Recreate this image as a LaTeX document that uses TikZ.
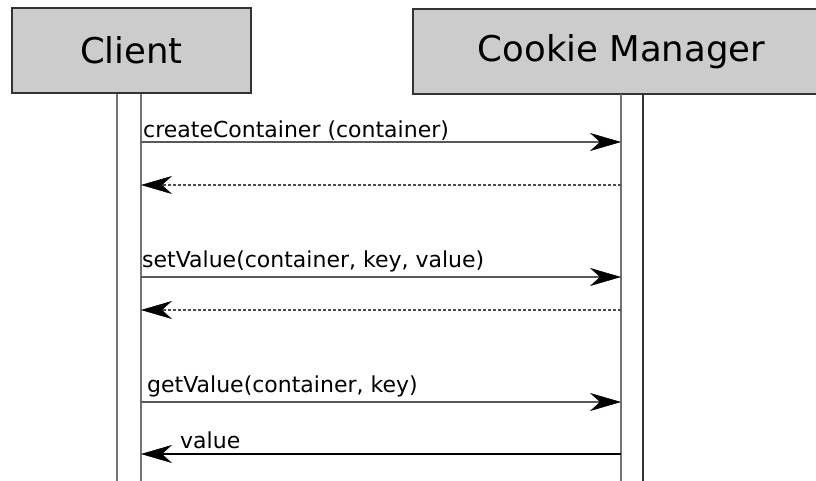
\documentclass[tikz,border=0pt]{standalone}
\usepackage{fontspec}
\setmainfont{DejaVu Sans}
\usetikzlibrary{arrows.meta}
\definecolor{boxgray}{HTML}{CCCCCC}
\begin{document}
\begin{tikzpicture}[x=1pt,y=-1pt,
  actor/.style={draw=black!80, line width=2pt, fill=boxgray, inner sep=0pt,
    minimum height=85pt, font=\fontsize{35.5}{40}\selectfont},
  lifebar/.style={draw=black!55, line width=2.5pt},
  lifebardark/.style={draw=black!80, line width=2.5pt},
  tip/.style={-{Stealth[length=31pt,width=18pt,inset=10pt,color=black,line width=0.5pt]}},
  callmsg/.style={tip, draw=black!65, line width=2pt},
  retmsg/.style={tip, draw=black!70, line width=1.6pt, dash pattern=on 3pt off 2pt},
  valmsg/.style={tip, draw=black, line width=2pt},
  lbl/.style={anchor=base west, inner sep=0pt, font=\fontsize{22}{26}\selectfont}
]
\useasboundingbox (0,0) rectangle (816,481);
\clip (0,0) rectangle (816,481);
\fill[white] (0,0) rectangle (816,481);

% actor boxes
\node[actor, minimum width=239pt] (client) at (131.5,50.5) {Client};
\node[actor, minimum width=417pt] (cm) at (621.5,51.5) {Cookie Manager};

% activation bars (open at the bottom)
\draw[lifebar] (117,94) -- (117,481);
\draw[lifebar] (141,94) -- (141,481);
\draw[lifebar] (621,94) -- (621,481);
\draw[lifebardark] (643,94) -- (643,481);

% message end points on the lifelines
\coordinate (c1) at (141,142); \coordinate (m1) at (621,142);
\coordinate (c2) at (141,185); \coordinate (m2) at (621,185);
\coordinate (c3) at (141,277); \coordinate (m3) at (621,277);
\coordinate (c4) at (141,310); \coordinate (m4) at (621,310);
\coordinate (c5) at (141,402); \coordinate (m5) at (621,402);
\coordinate (c6) at (141,454); \coordinate (m6) at (621,454);

\draw[callmsg] (c1) -- (m1);
\draw[retmsg] (m2) -- (c2);
\draw[callmsg] (c3) -- (m3);
\draw[retmsg] (m4) -- (c4);
\draw[callmsg] (c5) -- (m5);
\draw[valmsg] (m6) -- (c6);

\node[lbl] (l1) at (143,138) {createContainer (container)};
\node[lbl] (l2) at (142,267) {setValue(container, key, value)};
\node[lbl] (l3) at (147,392) {getValue(container, key)};
\node[lbl] (l4) at (180,448) {value};
\end{tikzpicture}
\end{document}
